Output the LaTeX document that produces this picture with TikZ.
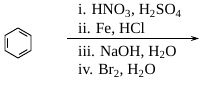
\documentclass[tikz,border=0pt]{standalone}
\usepackage{fontspec}
\setmainfont{Liberation Serif}
\usetikzlibrary{arrows.meta,calc}
\begin{document}
\begin{tikzpicture}[x=1pt,y=-1pt,
  reag/.style={anchor=base west, inner sep=0pt, font=\fontsize{15.5}{17}\selectfont},
  bond/.style={line width=0.9pt, line cap=round, line join=round},
  rxnarrow/.style={line width=1.4pt, -{Stealth[length=8pt,width=5pt]}}]
\useasboundingbox (0,0) rectangle (206,85);
% benzene
\coordinate (C) at (18,43);
\coordinate (T) at (18,28);
\coordinate (UR) at (31,35.5);
\coordinate (LR) at (31,50.5);
\coordinate (B) at (18,58);
\coordinate (LL) at (5,50.5);
\coordinate (UL) at (5,35.5);
\draw[bond] (T) -- (UR) -- (LR) -- (B) -- (LL) -- (UL) -- cycle;
\draw[bond] ($(C)!0.78!(UL)!0.1!(LL)$) -- ($(C)!0.78!(LL)!0.1!(UL)$);
\draw[bond] ($(C)!0.78!(T)!0.1!(UR)$) -- ($(C)!0.78!(UR)!0.1!(T)$);
\draw[bond] ($(C)!0.78!(LR)!0.1!(B)$) -- ($(C)!0.78!(B)!0.1!(LR)$);
% arrow
\coordinate (a0) at (67,38.5);
\coordinate (a1) at (199,38.5);
\draw[rxnarrow] (a0) -- (a1);
% reagents
\node[reag] (r1) at (78,15) {i. HNO\textsubscript{3}, H\textsubscript{2}SO\textsubscript{4}};
\node[reag] (r2) at (78,34) {ii. Fe, HCl};
\node[reag] (r3) at (78,56.5) {iii. NaOH, H\textsubscript{2}O};
\node[reag] (r4) at (78,75) {iv. Br\textsubscript{2}, H\textsubscript{2}O};
\end{tikzpicture}
\end{document}
